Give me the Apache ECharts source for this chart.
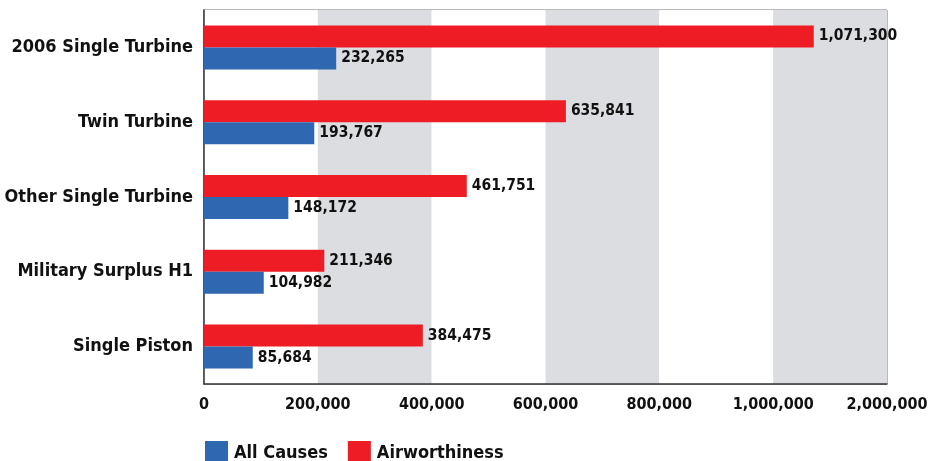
<!DOCTYPE html>
<html>
<head>
<meta charset="utf-8">
<script src="https://cdn.jsdelivr.net/npm/echarts@6/dist/echarts.min.js"></script>
<style>html,body{margin:0;padding:0;background:#fff}#c{width:936px;height:461px}</style>
</head>
<body>
<div id="c"></div>
<script>
const categories = ['2006 Single Turbine', 'Twin Turbine', 'Other Single Turbine', 'Military Surplus H1', 'Single Piston'];
const allCauses = [232265, 193767, 148172, 104982, 85684];
const airworthiness = [1071300, 635841, 461751, 211346, 384475];
const tickLabels = ['0', '200,000', '400,000', '600,000', '800,000', '1,000,000', '2,000,000'];

const FONT = '"DejaVu Sans Condensed", "DejaVu Sans", sans-serif';
const fmt = v => v.toLocaleString('en-US');

const chart = echarts.init(document.getElementById('c'));
chart.setOption({
  animation: false,
  grid: { left: 204, right: 49, top: 10, bottom: 77, outerBoundsMode: 'none', containLabel: false, show: true, borderColor: '#777', borderWidth: 1, backgroundColor: 'transparent' },
  legend: {
    left: 200, top: 436,
    data: ['All Causes', 'Airworthiness'],
    icon: 'rect', itemWidth: 23, itemHeight: 24, itemGap: 20,
    textStyle: { fontFamily: FONT, fontWeight: 'bold', fontSize: 18, color: '#111', padding: [2, 0, 0, 1] }
  },
  xAxis: {
    type: 'value', min: 0, max: 1200000, interval: 200000,
    axisLine: { show: true, lineStyle: { color: '#333', width: 1.5 } },
    axisTick: { show: false },
    splitLine: { show: false },
    splitArea: { show: true, areaStyle: { color: ['#ffffff', '#dcdde0'] } },
    axisLabel: {
      margin: 13,
      fontFamily: FONT, fontWeight: 'bold', fontSize: 16, color: '#111',
      formatter: v => tickLabels[Math.round(v / 200000)]
    }
  },
  yAxis: {
    type: 'category', data: categories, inverse: true,
    axisLine: { show: true, lineStyle: { color: '#333', width: 1.5 } },
    axisTick: { show: false },
    axisLabel: { margin: 11, fontFamily: FONT, fontWeight: 'bold', fontSize: 18, color: '#111' }
  },
  series: [
    {
      name: 'Airworthiness', type: 'bar', data: airworthiness,
      barWidth: 22, barGap: '0%',
      itemStyle: { color: '#ee1c25' },
      label: { show: true, position: 'right', distance: 5, formatter: p => fmt(p.value), fontFamily: FONT, fontWeight: 'bold', fontSize: 15.5, color: '#111' }
    },
    {
      name: 'All Causes', type: 'bar', data: allCauses,
      barWidth: 22, barGap: '0%',
      itemStyle: { color: '#3067b1' },
      label: { show: true, position: 'right', distance: 5, formatter: p => fmt(p.value), fontFamily: FONT, fontWeight: 'bold', fontSize: 15.5, color: '#111' }
    }
  ]
});
</script>
</body>
</html>
